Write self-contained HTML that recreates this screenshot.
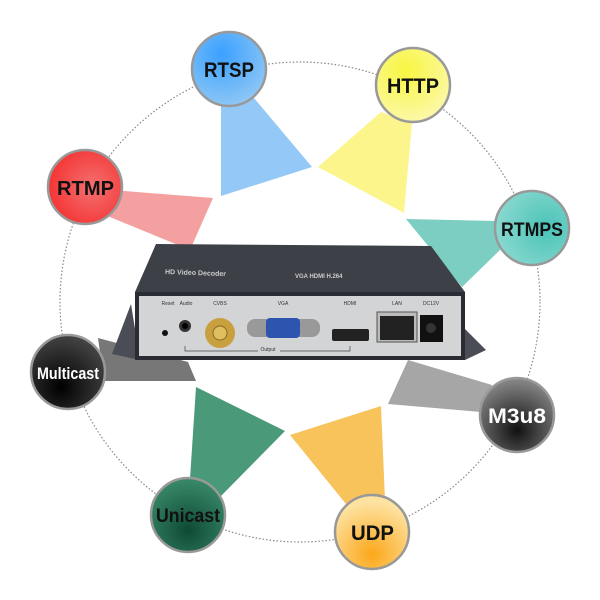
<!DOCTYPE html>
<html><head><style>body{margin:0;background:#fff}svg{display:block}</style></head><body>
<svg width="600" height="600" viewBox="0 0 600 600" font-family="Liberation Sans, sans-serif">
<defs>
<radialGradient id="gB" cx="40%" cy="30%" r="70%"><stop offset="0" stop-color="#3aa0ff"/><stop offset="1" stop-color="#8cc6f5"/></radialGradient>
<radialGradient id="gY" cx="40%" cy="30%" r="70%"><stop offset="0" stop-color="#f8f640"/><stop offset="1" stop-color="#fcf8a8"/></radialGradient>
<radialGradient id="gR" cx="60%" cy="50%" r="70%"><stop offset="0" stop-color="#f47070"/><stop offset="1" stop-color="#f42a2a"/></radialGradient>
<radialGradient id="gT" cx="70%" cy="50%" r="70%"><stop offset="0" stop-color="#4bc3b8"/><stop offset="1" stop-color="#8ad9d0"/></radialGradient>
<radialGradient id="gK" cx="40%" cy="70%" r="70%"><stop offset="0" stop-color="#000"/><stop offset="1" stop-color="#444"/></radialGradient>
<radialGradient id="gM" cx="50%" cy="70%" r="70%"><stop offset="0" stop-color="#111"/><stop offset="1" stop-color="#8a8a8a"/></radialGradient>
<radialGradient id="gG" cx="50%" cy="70%" r="70%"><stop offset="0" stop-color="#0e4a35"/><stop offset="1" stop-color="#3a8a6a"/></radialGradient>
<radialGradient id="gO" cx="50%" cy="80%" r="70%"><stop offset="0" stop-color="#fca71a"/><stop offset="1" stop-color="#fde2a0"/></radialGradient>
</defs>
<circle cx="300" cy="302" r="240" fill="none" stroke="#888" stroke-width="1.2" stroke-dasharray="1.5 2"/>
<polygon points="221,104 254,98 312,167 221,196" fill="#94c8f6"/>
<polygon points="381,112 412,123 404,213 318,167" fill="#fbf58c"/>
<polygon points="112,190 213,198 190,250 105,215" fill="#f5a0a0"/>
<polygon points="406,219 496,221 500,250 462,287" fill="#7ccdc2"/>
<polygon points="98,338 188,362 196,381 104,381" fill="#777"/>
<polygon points="408,360 388,404 481,412 492,385" fill="#a6a6a6"/>
<polygon points="196,387 285,431 221,496 190,479" fill="#4a9a7a"/>
<polygon points="290,435 381,406 385,500 346,504" fill="#f7c35a"/>
<!-- device -->
<polygon points="131,304 112,354 140,360" fill="#4a4d55"/>
<polygon points="465,329 486,350 465,360" fill="#4a4d55"/>
<polygon points="156,244 431,246 465,292 135,292" fill="#3e4048"/>
<rect x="135" y="292" width="330" height="68" fill="#2a2c33"/>
<rect x="139" y="296" width="322" height="60" fill="#d3d4d6"/>
<g font-size="5" fill="#333" text-anchor="middle">
<text x="168" y="305">Reset</text><text x="186" y="305">Audio</text><text x="220" y="305">CVBS</text><text x="283" y="305">VGA</text><text x="350" y="305">HDMI</text><text x="397" y="305">LAN</text><text x="431" y="305">DC12V</text><text x="268" y="351">Output</text>
</g>
<circle cx="165" cy="333" r="3" fill="#111"/>
<circle cx="185" cy="326" r="6" fill="#333"/><circle cx="185" cy="326" r="3" fill="#000"/>
<circle cx="220" cy="333" r="15" fill="#c9a040"/><circle cx="220" cy="333" r="7" fill="#e0bf60" stroke="#8a6a20"/>
<rect x="247" y="319" width="73" height="18" rx="8" fill="#999"/>
<rect x="266" y="318" width="34" height="20" rx="4" fill="#2d55b0"/>
<rect x="332" y="329" width="37" height="12" rx="2" fill="#222"/>
<rect x="377" y="312" width="40" height="30" fill="#bbb" stroke="#555"/><rect x="380" y="316" width="34" height="24" fill="#222"/>
<rect x="420" y="315" width="23" height="27" fill="#111"/><circle cx="431" cy="328" r="5" fill="#333"/>
<path d="M185 346V351H258M280 351H350V346" stroke="#444" fill="none" stroke-width="0.7"/>
<text x="165" y="274" font-size="7" fill="#ccc" font-weight="bold" transform="rotate(2 165 274)">HD Video Decoder</text>
<text x="295" y="278" font-size="6" fill="#ccc" font-weight="bold">VGA HDMI H.264</text>
<!-- circles -->
<g stroke="#999" stroke-width="2.5">
<circle cx="229" cy="69" r="37" fill="url(#gB)"/>
<circle cx="413" cy="85" r="37" fill="url(#gY)"/>
<circle cx="85" cy="187" r="37" fill="url(#gR)"/>
<circle cx="532" cy="228" r="37" fill="url(#gT)"/>
<circle cx="68" cy="372" r="37" fill="url(#gK)"/>
<circle cx="517" cy="415" r="37" fill="url(#gM)"/>
<circle cx="188" cy="515" r="37" fill="url(#gG)"/>
<circle cx="372" cy="532" r="37" fill="url(#gO)"/>
</g>
<g font-weight="bold" stroke="none" lengthAdjust="spacingAndGlyphs">
<text x="204" y="77" font-size="21" fill="#111" textLength="50" lengthAdjust="spacingAndGlyphs">RTSP</text>
<text x="387" y="93" font-size="21" fill="#111" textLength="52" lengthAdjust="spacingAndGlyphs">HTTP</text>
<text x="57" y="195" font-size="20" fill="#111" textLength="57" lengthAdjust="spacingAndGlyphs">RTMP</text>
<text x="501" y="236" font-size="19" fill="#111" textLength="62" lengthAdjust="spacingAndGlyphs">RTMPS</text>
<text x="37" y="379" font-size="17" fill="#fff" textLength="62" lengthAdjust="spacingAndGlyphs">Multicast</text>
<text x="488" y="423" font-size="21" fill="#fff" textLength="58" lengthAdjust="spacingAndGlyphs">M3u8</text>
<text x="156" y="522" font-size="19" fill="#111" textLength="64" lengthAdjust="spacingAndGlyphs">Unicast</text>
<text x="351" y="540" font-size="21" fill="#111" textLength="43" lengthAdjust="spacingAndGlyphs">UDP</text>
</g>
</svg>
</body></html>
